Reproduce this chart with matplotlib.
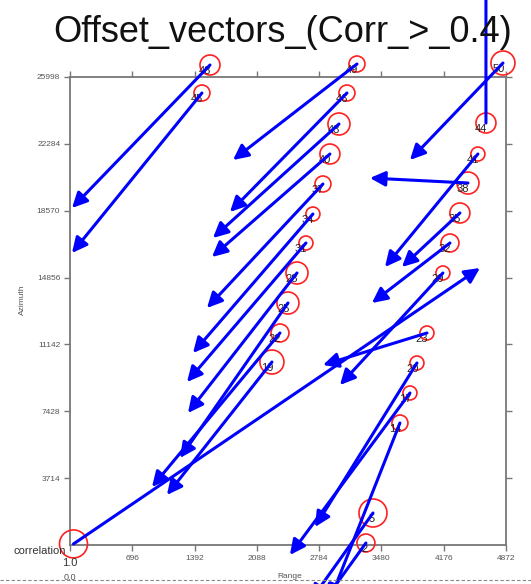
import matplotlib
matplotlib.use("Agg")
import matplotlib.pyplot as plt

plt.rcParams['font.family'] = ['Liberation Sans', 'DejaVu Sans']

# ---- data -------------------------------------------------------------
point_ids = ["48", "45",
             "49", "46", "43", "40", "37", "34", "31", "28", "25", "22", "19",
             "50", "44", "41", "38", "35", "32", "29", "23", "20", "17", "14",
             "5", "2", ""]
start_x = [1565, 1475,
           3207, 3095, 3006, 2905, 2827, 2715, 2637, 2537, 2436, 2347, 2257,
           4838, 4648, 4558, 4447, 4357, 4246, 4167, 3989, 3877, 3799, 3687,
           3386, 3307, 40]
start_y = [26664, 25109,
           26720, 25109, 23387, 21720, 20054, 18387, 16776, 15110, 13443, 11777, 10166,
           26775, 23442, 21720, 20109, 18443, 16776, 15110, 11777, 10110, 8444, 6777,
           1778, 111, 60]
end_x = [23, 23,
         1822, 1788, 1598, 1587, 1531, 1375, 1308, 1319, 1230, 917, 1084,
         3799, 4648, 3520, 3352, 3709, 3374, 3017, 2827, 2738, 2458, 2905,
         2693, 2849, 4581]
end_y = [18720, 16221,
         21387, 18498, 17054, 15998, 13165, 10666, 9055, 7333, 4833, 3222, 2778,
         21387, 31941, 15443, 20387, 15443, 13443, 8888, 9999, 1000, -556, -3055,
         -3055, -3055, 15387]
# circle radius (px) ~ correlation strength
circle_r = [10, 8,
            8, 8, 11, 10, 8, 7, 7, 11, 11, 9, 12,
            12, 10, 7, 11, 10, 9, 7, 7, 7, 7, 8,
            14, 9, 14]

x_ticks = [1, 696, 1392, 2088, 2784, 3480, 4176, 4872]
x_tick_labels = ["", "696", "1392", "2088", "2784", "3480", "4176", "4872"]
y_ticks = [3714, 7428, 11142, 14856, 18570, 22284, 25998]
y_tick_labels = ["3714", "7428", "11142", "14856", "18570", "22284", "25998"]
title = "Offset_vectors_(Corr_>_0.4)"

# ---- figure -----------------------------------------------------------
W, H = 531, 584
fig = plt.figure(figsize=(W / 100, H / 100), dpi=100)
ax = fig.add_axes([70 / W, 1 - 545 / H, 436 / W, 468 / H])
ax.set_xlim(1, 4872)
ax.set_ylim(0, 25998)

for s in ax.spines.values():
    s.set_color('#777777')
    s.set_linewidth(1.3)

ax.set_xticks(x_ticks)
ax.set_xticklabels(x_tick_labels)
ax.set_yticks(y_ticks)
ax.set_yticklabels(y_tick_labels)
ax.tick_params(axis='both', direction='out', length=4, width=1, color='#777777',
               labelsize=6, labelcolor='#555555', pad=3,
               top=True, right=True)

# circles
sizes = [(1.44 * r) ** 2 for r in circle_r]
ax.scatter(start_x, start_y, s=sizes, facecolors='none', edgecolors='#ff2020',
           linewidths=1.2, zorder=3, clip_on=False)

# labels
for lab, x, y in zip(point_ids, start_x, start_y):
    if lab:
        ax.annotate(lab, (x, y), xytext=(1, -4), textcoords='offset points',
                    ha='right', va='center', fontsize=8, color='#222222',
                    zorder=4, annotation_clip=False)

# arrows
for x0, y0, x1, y1 in zip(start_x, start_y, end_x, end_y):
    ax.annotate("", xy=(x1, y1), xytext=(x0, y0),
                arrowprops=dict(arrowstyle='-|>,head_length=0.65,head_width=0.32',
                                color='#0000ff', lw=2.2, mutation_scale=14,
                                shrinkA=0, shrinkB=0),
                annotation_clip=False, zorder=5)

# titles and labels
fig.text(283 / W, 1 - 32 / H, title, ha='center', va='center', fontsize=26,
         color='#111111')
fig.text(22 / W, 1 - 300 / H, "Azimuth", rotation=90, ha='center', va='center',
         fontsize=6, color='#555555')
fig.text(290 / W, 1 - 576 / H, "Range", ha='center', va='center',
         fontsize=6, color='#555555')
fig.text(40 / W, 1 - 551 / H, "correlation", ha='center', va='center',
         fontsize=8, color='#333333')
fig.text(70 / W, 1 - 563 / H, "1.0", ha='center', va='center',
         fontsize=8, color='#333333')
fig.text(70 / W, 1 - 577 / H, "0.0", ha='center', va='center',
         fontsize=6.5, color='#555555')
fig.add_artist(plt.Line2D([0, 1], [1 - 580 / H, 1 - 580 / H],
                          transform=fig.transFigure, color='#888888',
                          lw=0.8, ls=(0, (3, 2))))

fig.savefig("out.png", dpi=100)
